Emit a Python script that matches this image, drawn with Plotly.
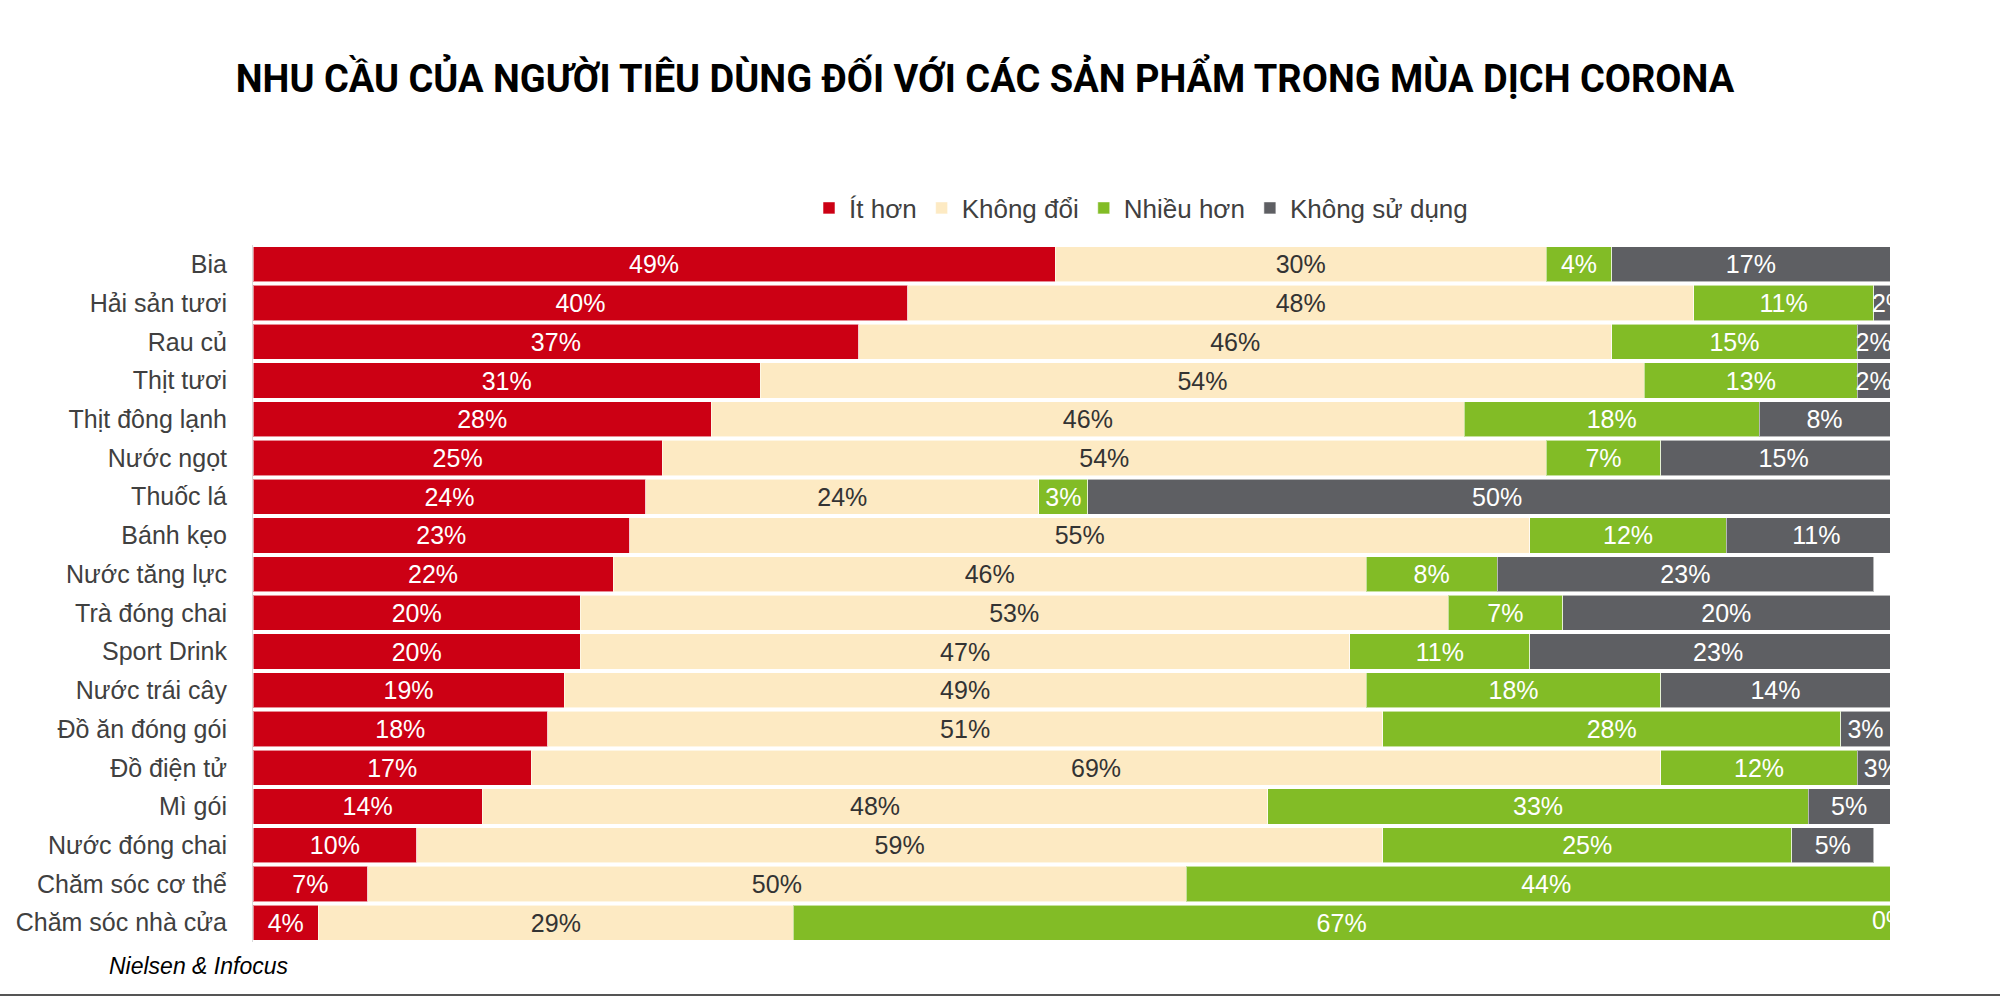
import plotly.graph_objects as go

categories = ["Bia", "Hải sản tươi", "Rau củ", "Thịt tươi", "Thịt đông lạnh", "Nước ngọt",
              "Thuốc lá", "Bánh kẹo", "Nước tăng lực", "Trà đóng chai", "Sport Drink",
              "Nước trái cây", "Đồ ăn đóng gói", "Đồ điện tử", "Mì gói", "Nước đóng chai",
              "Chăm sóc cơ thể", "Chăm sóc nhà cửa"]

it_hon = [49, 40, 37, 31, 28, 25, 24, 23, 22, 20, 20, 19, 18, 17, 14, 10, 7, 4]
khong_doi = [30, 48, 46, 54, 46, 54, 24, 55, 46, 53, 47, 49, 51, 69, 48, 59, 50, 29]
nhieu_hon = [4, 11, 15, 13, 18, 7, 3, 12, 8, 7, 11, 18, 28, 12, 33, 25, 44, 67]
khong_su_dung = [17, 2, 2, 2, 8, 15, 50, 11, 23, 20, 23, 14, 3, 3, 5, 5, None, 0]

series_names = ["Ít hơn", "Không đổi", "Nhiều hơn", "Không sử dụng"]
series_values = [it_hon, khong_doi, nhieu_hon, khong_su_dung]
colors = ["#CC0014", "#FDEAC3", "#82BC26", "#5E5F63"]
text_colors = ["white", "#333333", "white", "white"]

title_text = "NHU CẦU CỦA NGƯỜI TIÊU DÙNG ĐỐI VỚI CÁC SẢN PHẨM TRONG MÙA DỊCH CORONA"
source_text = "Nielsen & Infocus"

fig = go.Figure()
for name, vals, col, tcol in zip(series_names, series_values, colors, text_colors):
    fig.add_trace(go.Bar(
        y=categories, x=vals, name=name, orientation="h",
        marker=dict(color=col, line=dict(color="rgba(255,255,255,0.55)", width=1)),
        texttemplate="%{x}%", textposition="inside", insidetextanchor="middle",
        textangle=0, constraintext="none",
        insidetextfont=dict(family="Liberation Sans, Arial, sans-serif", size=25, color=tcol),
        hoverinfo="skip",
    ))

# labels for zero-width segments (plotly does not draw text in empty bars)
zero_x, zero_y, zero_t, zero_c = [], [], [], []
for si, vals in enumerate(series_values):
    for ci, v in enumerate(vals):
        if v == 0:
            base = sum((series_values[k][ci] or 0) for k in range(si))
            zero_x.append(base)
            zero_y.append(categories[ci])
            zero_t.append(f"{v}%")
            zero_c.append(text_colors[si])
fig.add_trace(go.Scatter(
    x=zero_x, y=zero_y, text=zero_t, mode="text", textposition="middle center",
    textfont=dict(family="Liberation Sans, Arial, sans-serif", size=25, color=zero_c),
    showlegend=False, hoverinfo="skip", cliponaxis=True,
))

L, R, T, B = 253, 110, 245, 54
W, H = 2000, 996
pw = W - L - R
ph = H - T - B

fig.update_layout(
    barmode="stack",
    width=W, height=H,
    margin=dict(l=L, r=R, t=T, b=B),
    paper_bgcolor="white", plot_bgcolor="white",
    bargap=0.09,
    font=dict(family="Liberation Sans, Arial, sans-serif", color="#404040", size=25),
    title=dict(text=title_text, x=0.4925, xref="container", xanchor="center",
               y=1 - 79 / H, yref="container", yanchor="middle",
               font=dict(family="Roboto", size=38, color="black", weight=700)),
    legend=dict(orientation="h", x=(809 - L) / pw, xanchor="left",
                y=1 + (T - 208) / ph, yanchor="middle",
                font=dict(size=26, color="#404040"), traceorder="normal",
                itemclick=False),
    xaxis=dict(range=[0, 100], showgrid=False, showticklabels=False, zeroline=False,
               ticks="", showline=False, fixedrange=True),
    yaxis=dict(categoryorder="array", categoryarray=categories,
               range=[len(categories) - 0.5, -0.5], autorange=False,
               showgrid=False, zeroline=False, ticks="", showline=True,
               linecolor="#d9d9d9", linewidth=1, ticklabelstandoff=20,
               tickfont=dict(size=25, color="#404040"), fixedrange=True),
    annotations=[dict(text="<i>" + source_text + "</i>", xref="paper", yref="paper",
                      x=(107 - L) / pw, y=(ph - (966 - T)) / ph, xanchor="left",
                      yanchor="middle", showarrow=False,
                      font=dict(size=23, color="black"))],
    shapes=[dict(type="line", xref="paper", yref="paper",
                 x0=-L / pw, x1=(W - L) / pw, y0=(ph - (995 - T)) / ph,
                 y1=(ph - (995 - T)) / ph, line=dict(color="#555555", width=2))],
)

fig.write_html("out.html", config={"displayModeBar": False},
               post_script="document.body.style.margin='0px';document.body.style.overflow='hidden';")
